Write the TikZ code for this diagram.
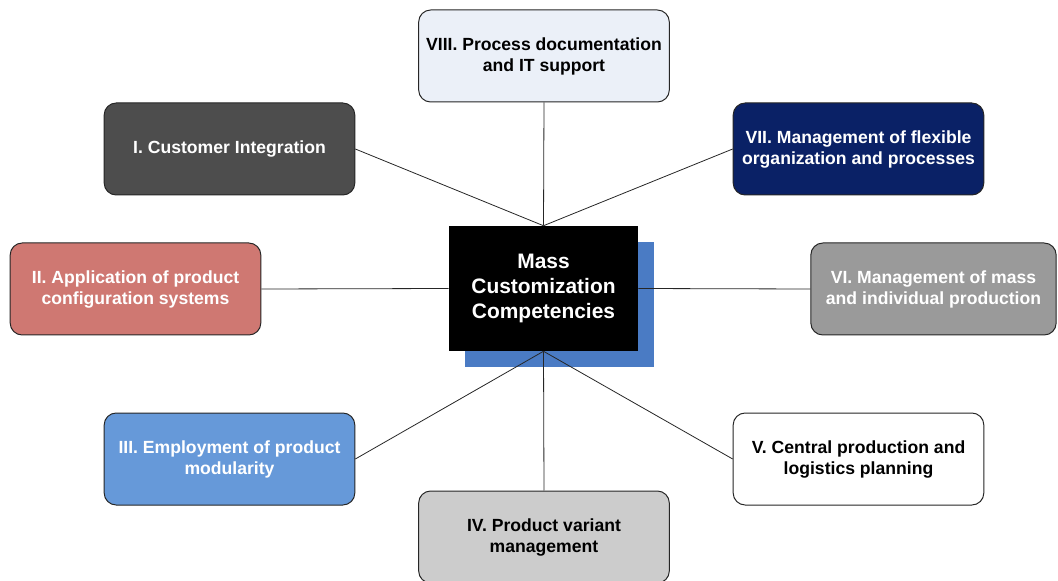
\documentclass[tikz,border=0pt]{standalone}
\usepackage{fontspec}
\setmainfont{Liberation Sans}
\usetikzlibrary{positioning}

\definecolor{boxdark}{HTML}{4D4D4D}
\definecolor{boxnavy}{HTML}{0A2166}
\definecolor{boxred}{HTML}{CF7872}
\definecolor{boxgray}{HTML}{9A9A9A}
\definecolor{boxblue}{HTML}{6699D9}
\definecolor{boxlight}{HTML}{CCCCCC}
\definecolor{boxpale}{HTML}{EBF0F8}
\definecolor{shadowblue}{HTML}{4A7BC4}

\tikzset{
  comp/.style={draw=black!85, line width=0.75pt, rounded corners=9pt,
    minimum width=188pt, minimum height=69pt, inner sep=0pt,
    align=center, font=\fontsize{13.2}{15.75}\selectfont\bfseries},
  light/.style={comp, text=white},
  link/.style={draw=black!85, line width=0.6pt}
}

\begin{document}
\begin{tikzpicture}[x=0.75pt, y=-0.75pt]

    \useasboundingbox (0,0) rectangle (1058,581);

    % draw competency boxes
    \node[comp, fill=boxpale] (doc) at (544,56) {VIII. Process documentation\\and IT support};
    \node[light, fill=boxdark] (cust) at (229.5,149) {I. Customer Integration};
    \node[light, fill=boxnavy] (flex) at (858.5,149) {VII. Management of flexible\\organization and processes};
    \node[light, fill=boxred] (conf) at (135.5,289) {II. Application of product\\configuration systems};
    \node[light, fill=boxgray, minimum width=184pt] (mass) at (933.5,289) {VI. Management of mass\\and individual production};
    \node[light, fill=boxblue] (modu) at (229.5,459) {III. Employment of product\\modularity};
    \node[comp, fill=white] (plan) at (858.5,459) {V. Central production and\\logistics planning};
    \node[comp, fill=boxlight] (vari) at (544,537) {IV. Product variant\\management};

    % draw centre box with its shadow
    \fill[shadowblue] (465,242) rectangle (654,367);
    \node[fill=black, minimum width=141.75pt, minimum height=93.75pt, inner sep=0pt,
      text=white, align=center, font=\fontsize{15.7}{18.75}\selectfont\bfseries]
      (mcc) at (543.5,288.5) {Mass\\Customization\\Competencies};

    % draw links
    \draw[link] (mcc.north) -- (doc.south);
    \draw[link] (mcc.north) -- (cust.east);
    \draw[link] (mcc.north) -- (flex.west);
    \draw[link] (mcc.west) -- (conf.east);
    \draw[link] (mcc.east) -- (mass.west);
    \draw[link] (mcc.south) -- (modu.east);
    \draw[link] (mcc.south) -- (plan.west);
    \draw[link] (mcc.south) -- (vari.north);
  \end{tikzpicture}
\end{document}
